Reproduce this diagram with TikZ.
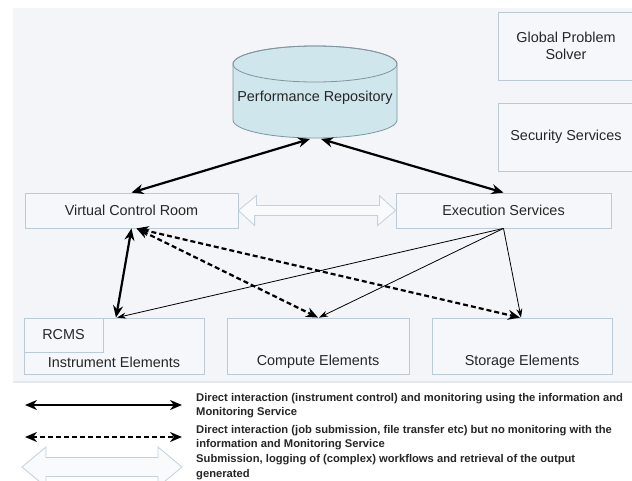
\documentclass[tikz,border=0pt]{standalone}
\usepackage{fontspec}
\setmainfont{Liberation Sans}
\usetikzlibrary{arrows.meta}
\definecolor{bgc}{HTML}{F3F5F8}
\definecolor{sepc}{HTML}{E3E8ED}
\definecolor{boxfill}{HTML}{F5F7FA}
\definecolor{boxline}{HTML}{BCCAD6}
\definecolor{cylfill}{HTML}{CFE6EC}
\definecolor{cylline}{HTML}{7F959F}
\definecolor{hollowfill}{HTML}{F8FAFC}
\definecolor{hollowline}{HTML}{C3D1DA}
\definecolor{txt}{HTML}{262626}
\tikzset{
  box/.style={draw=boxline, fill=boxfill, line width=0.8pt, inner sep=0pt,
    font=\fontsize{14.4}{16.5}\selectfont, text=txt, align=center},
  lbl/.style={font=\fontsize{14.4}{16.5}\selectfont, text=txt, inner sep=0pt},
  legendtext/.style={font=\bfseries\fontsize{11.2}{14.5}\selectfont, text=txt, align=left, anchor=west, inner sep=0pt},
  thickarrow/.style={line width=2.2pt, {Stealth[length=12pt,width=10pt]}-{Stealth[length=12pt,width=10pt]}},
  dasharrow/.style={line width=2.2pt, dash pattern=on 5pt off 3pt, {Stealth[length=12pt,width=10pt]}-{Stealth[length=12pt,width=10pt]}},
  thinarrow/.style={line width=0.8pt, -{Stealth[length=9pt,width=6pt]}},
  hollow/.style={draw=hollowline, fill=hollowfill, line width=0.8pt, line join=miter}
}
\begin{document}
\begin{tikzpicture}[x=1pt,y=-1pt]
\useasboundingbox (0,0) rectangle (632,481);
\fill[white] (0,0) rectangle (632,481);
\fill[bgc] (13,8) rectangle (632,381);
\draw[sepc, line width=1.5pt] (13,382) -- (632,382);

% right boxes
\node[box, minimum width=136pt, minimum height=68pt] (gps) at (566,46) {Global Problem\\Solver};
\node[box, minimum width=136pt, minimum height=68pt] (sec) at (566,137) {Security Services};

% cylinder
\fill[cylfill, draw=cylline, line width=0.8pt] (233,64) -- (233,120)
  arc[start angle=180, end angle=0, x radius=82, y radius=18] -- (397,64)
  arc[start angle=0, end angle=-180, x radius=82, y radius=18] -- cycle;
\draw[cylline, line width=0.8pt] (315,64) ellipse [x radius=82, y radius=18];
\node[lbl] (pr) at (315,98) {Performance Repository};
\coordinate (prb) at (315,139);

% middle boxes
\node[box, minimum width=213pt, minimum height=35pt] (vcr) at (131.5,210.5) {Virtual Control Room};
\node[box, minimum width=215pt, minimum height=35pt] (exec) at (503.5,210.5) {Execution Services};

% bottom boxes
\node[box, minimum width=180pt, minimum height=56pt] (ie) at (114,346) {};
\node[box, minimum width=79pt, minimum height=34pt] (rcms) at (63.5,335) {RCMS};
\node[lbl] (iet) at (114,362) {Instrument Elements};
\node[box, minimum width=182pt, minimum height=56pt] (ce) at (318,346) {};
\node[lbl] (cet) at (318,362) {Compute Elements};
\node[box, minimum width=180pt, minimum height=56pt] (se) at (522,346) {};
\node[lbl] (set) at (522,362) {Storage Elements};

% hollow arrow between VCR and Exec
\draw[hollow] (vcr.east) -- ++(18,-15) -- ++(0,10) -- ++(123,0) -- ++(0,-10)
  -- (exec.west) -- ++(-18,15) -- ++(0,-10) -- ++(-123,0) -- ++(0,10) -- cycle;

% arrows
\draw[thickarrow] ([xshift=-5pt]prb) -- (vcr.north);
\draw[thickarrow] ([xshift=6pt]prb) -- (exec.north);
\draw[thickarrow] (vcr.south) -- ([xshift=2pt]ie.north);
\draw[dasharrow] ([xshift=5pt]vcr.south) -- (ce.north);
\draw[dasharrow] ([xshift=5pt]vcr.south) -- ([xshift=-2pt]se.north);
\draw[thinarrow] (exec.south) -- ([xshift=3pt]ie.north);
\draw[thinarrow] (exec.south) -- ([xshift=1pt]ce.north);
\draw[thinarrow] (exec.south) -- ([xshift=-1pt]se.north);

% legend
\coordinate (l1a) at (25,405); \coordinate (l1b) at (182,405);
\draw[thickarrow] (l1a) -- (l1b);
\node[legendtext] (t1) at (196,405.5) {Direct interaction (instrument control) and monitoring using the information and\\Monitoring Service};
\coordinate (l2a) at (25,437); \coordinate (l2b) at (182,437);
\draw[dasharrow] (l2a) -- (l2b);
\node[legendtext] (t2) at (196,437.5) {Direct interaction (job submission, file transfer etc) but no monitoring with the\\information and Monitoring Service};
\coordinate (l3a) at (22,467); \coordinate (l3b) at (182,467);
\draw[hollow] (l3a) -- ++(24,-20) -- ++(0,10.5) -- ++(112,0) -- ++(0,-10.5)
  -- (l3b) -- ++(-24,20) -- ++(0,-10.5) -- ++(-112,0) -- ++(0,10.5) -- cycle;
\node[legendtext] (t3) at (196,467) {Submission, logging of (complex) workflows and retrieval of the output\\generated};
\end{tikzpicture}
\end{document}
